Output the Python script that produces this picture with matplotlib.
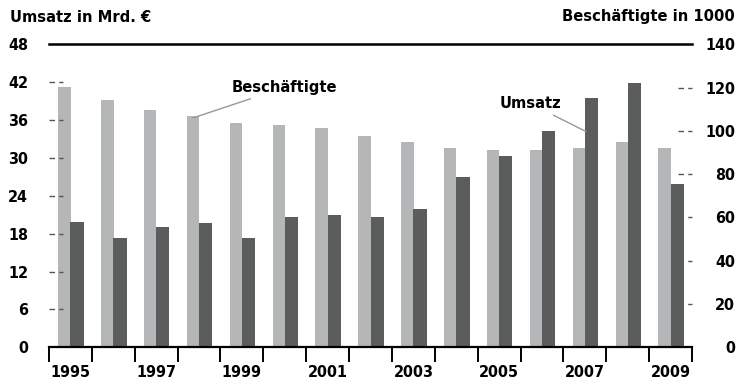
import matplotlib
matplotlib.use("Agg")
import matplotlib.pyplot as plt
import numpy as np

# Umsatz (Mrd. EUR, linke Achse) und Beschaeftigte (in 1000, rechte Achse)
jahre = list(range(1995, 2010))
umsatz = [19.9, 17.3, 19.1, 19.7, 17.3, 20.6, 20.9, 20.6, 21.9, 27.0, 30.3, 34.2, 39.5, 41.9, 25.9]
beschaeftigte = [120.1, 114.3, 109.7, 107.0, 103.8, 102.6, 101.5, 97.6, 94.9, 92.2, 91.0, 91.0, 92.2, 94.9, 92.2]
yticks_links = [0, 6, 12, 18, 24, 30, 36, 42, 48]
yticks_rechts = [0, 20, 40, 60, 80, 100, 120, 140]

HELL = "#b5b6b7"
DUNKEL = "#5b5d5c"

plt.rcParams["font.family"] = "DejaVu Sans"
plt.rcParams["font.stretch"] = "condensed"
plt.rcParams["font.weight"] = "bold"

fig = plt.figure(figsize=(7.41, 3.82), dpi=100)
ax = fig.add_axes([0.0661, 0.0908, 0.8679, 0.7932])
ax2 = ax.twinx()
# Umsatz-Balken vor die Beschaeftigten-Balken legen
ax.set_zorder(ax2.get_zorder() + 1)
ax.patch.set_visible(False)

x = np.arange(len(jahre))
ax2.bar(x - 0.14, beschaeftigte, width=0.29, color=HELL, zorder=2)
ax.bar(x + 0.155, umsatz, width=0.31, color=DUNKEL, zorder=2)

ax.set_xlim(-0.5, len(jahre) - 0.5)
ax.set_ylim(0, 48)
ax2.set_ylim(0, 140)

for a in (ax, ax2):
    for s in ("left", "right", "top"):
        a.spines[s].set_visible(False)
ax2.spines["bottom"].set_visible(False)
ax.spines["bottom"].set_linewidth(1.6)
ax.spines["bottom"].set_color("black")
ax.axhline(48, color="black", lw=1.8, clip_on=False, zorder=5)

# x-Achse: Striche zwischen den Jahren, Beschriftung jedes zweite Jahr
ax.set_xticks(x[::2])
ax.set_xticklabels([str(j) for j in jahre[::2]], fontsize=11.5)
ax.set_xticks(np.arange(-0.5, len(jahre)), minor=True)
ax.tick_params(axis="x", which="major", length=0, pad=12.5)
ax.tick_params(axis="x", which="minor", length=11, width=1.4, color="black")

ax.set_yticks(yticks_links)
ax.set_yticklabels([str(t) for t in yticks_links], fontsize=11.5)
ax.tick_params(axis="y", length=0, pad=15)
ax2.set_yticks(yticks_rechts)
ax2.set_yticklabels([str(t) for t in yticks_rechts], fontsize=11.5)
ax2.tick_params(axis="y", length=0, pad=31)
for lab in ax2.get_yticklabels():
    lab.set_horizontalalignment("right")

# kurze gestrichelte Markierungen an den Achsenenden
for t in yticks_links[1:-1]:
    ax.plot([0.0, 0.022], [t, t], transform=ax.get_yaxis_transform(),
            color="#555555", lw=1.0, ls=(0, (4, 3)), zorder=1, clip_on=False)
for t in yticks_rechts[1:-1]:
    ax2.plot([0.978, 1.0], [t, t], transform=ax2.get_yaxis_transform(),
             color="#555555", lw=1.0, ls=(0, (4, 3)), zorder=1, clip_on=False)

fig.text(10 / 741, 1 - 17 / 382, "Umsatz in Mrd. €", fontsize=11.8, va="center", ha="left")
fig.text(735 / 741, 1 - 17 / 382, "Beschäftigte in 1000", fontsize=11.8, va="center", ha="right")

ax2.annotate("Beschäftigte", xy=(3 - 0.14, beschaeftigte[3] - 1), xytext=(3.75, 120.0),
             fontsize=11.8, va="center", ha="left",
             arrowprops=dict(arrowstyle="-", color="#999999", lw=1.0, shrinkA=2, shrinkB=0))
ax.annotate("Umsatz", xy=(12 + 0.02, 34.2), xytext=(11.45, 38.6),
            fontsize=11.8, va="center", ha="right",
            arrowprops=dict(arrowstyle="-", color="#999999", lw=1.0, shrinkA=2, shrinkB=0))

fig.savefig("out.png", dpi=100)
